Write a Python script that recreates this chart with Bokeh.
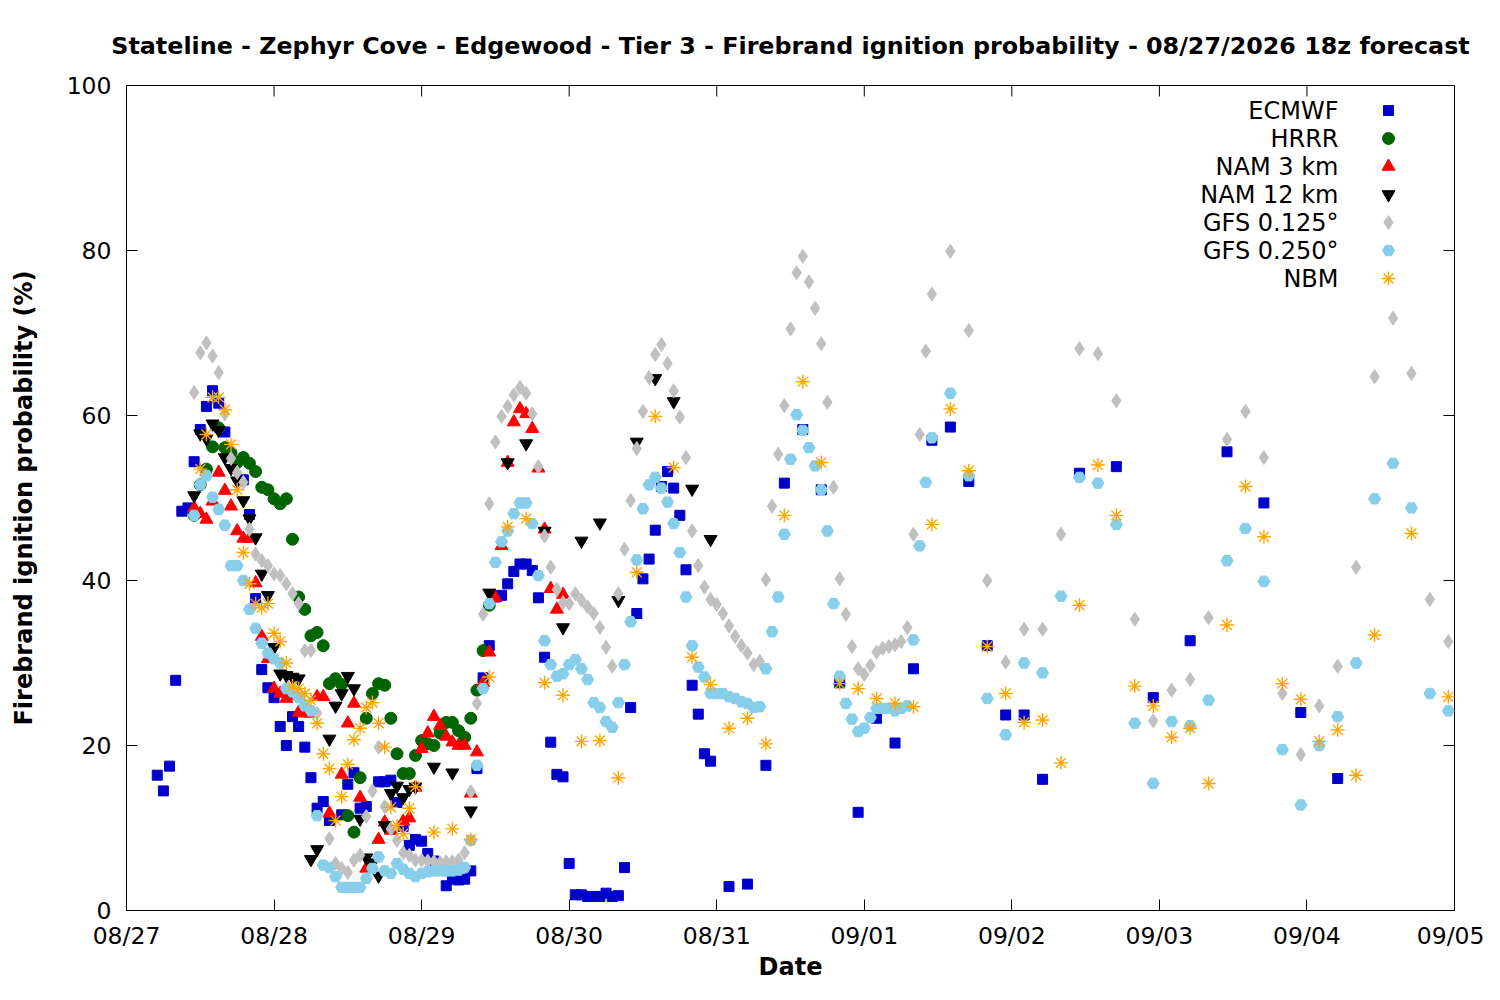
from bokeh.plotting import figure
from bokeh.models import FixedTicker, Range1d
from bokeh.core.properties import value
from bokeh.embed import file_html
from bokeh.resources import INLINE

# forecast hours counted from 08/27 00z
day_labels = ["08/27", "08/28", "08/29", "08/30", "08/31",
              "09/01", "09/02", "09/03", "09/04", "09/05"]

ecmwf_h = (list(range(5, 17)) + list(range(19, 34)) + list(range(35, 40))
           + list(range(41, 96)) + list(range(98, 150, 3)) + list(range(155, 198, 6)))
ecmwf_v = [16.4, 14.5, 17.5, 27.9, 48.4, 48.8, 54.4, 58.3, 61.1, 63.0, 61.5, 58.0,
           52.2, 48.0, 37.8, 29.2, 27.0, 25.8, 22.3, 20.0, 23.5, 22.3, 19.8, 16.1, 12.4, 13.2, 10.9,
           11.6, 15.3, 16.7, 12.4, 12.6,
           15.6, 15.6, 15.8, 13.1, 10.2, 7.9, 8.6, 8.4,
           6.9, 6.0, 5.0, 3.0, 3.8, 3.7, 3.8, 4.8,
           17.2, 28.2, 32.1, 38.0, 38.2, 39.6, 41.1, 42.0, 42.0, 41.2, 37.9, 30.7, 20.4, 16.5, 16.2,
           5.7, 1.9, 1.9, 1.7, 1.7, 1.7, 2.1, 1.7, 1.8, 5.2,
           24.6, 36.0, 40.2, 42.6, 46.1, 51.4, 53.2, 51.2, 47.9, 41.3, 27.3, 23.8, 19.0, 18.1,
           2.9, 3.2, 17.6, 51.8, 58.3, 51.0, 27.6, 11.9, 23.3, 20.3, 29.3, 57.0, 58.6, 52.0,
           32.1, 23.7, 23.7, 15.9,
           53.0, 53.8, 25.8, 32.7, 55.6, 49.4, 24.0, 16.0]

hrrr_h = list(range(11, 60))
hrrr_v = [47.9, 51.6, 53.5, 56.2, 58.5, 56.1, 55.5, 54.3, 54.9, 54.2,
          53.2, 51.3, 51.0, 49.9, 49.3, 49.9, 45.0, 38.0, 36.5, 33.3,
          33.7, 32.1, 27.5, 28.1, 27.4, 11.5, 9.5, 16.1, 23.3, 26.3,
          27.5, 27.3, 23.3, 19.0, 16.6, 16.6, 18.8, 20.6, 20.2, 20.0,
          21.5, 22.8, 22.8, 21.8, 21.0, 23.3, 26.7, 31.5, 37.0]

nam3_h = list(range(11, 34)) + list(range(35, 40)) + list(range(41, 44)) + list(range(45, 72))
nam3_v = [48.8, 48.1, 47.4, 49.6, 53.1, 50.9, 49.0, 46.0, 45.1, 45.1,
          39.7, 33.2, 30.5, 26.9, 26.3, 25.7, 26.0, 24.0, 23.9, 23.9,
          25.9, 25.9, 11.8,
          16.5, 22.7, 25.1, 13.7, 5.1,
          8.6, 10.7, 9.7,
          10.8, 11.2, 14.9, 19.6, 21.5, 23.5, 22.4, 21.1, 20.4, 20.0,
          20.0, 14.2, 19.2, 27.6, 31.3, 37.9, 44.2, 54.3, 59.2, 60.8,
          60.2, 58.4, 53.6, 46.2, 39.0, 36.5, 38.3]

nam12_h = list(range(11, 29)) + [30, 31] + list(range(33, 48)) + list(range(50, 96, 3))
nam12_v = [50.3, 57.8, 57.2, 59.0, 58.2, 54.9, 53.6, 52.1, 49.7, 47.5,
           45.2, 40.8, 38.2, 31.9, 28.7, 28.5, 28.3, 28.1,
           6.2, 7.4,
           20.8, 24.8, 26.3, 28.4, 26.9, 11.1, 6.4, 5.8, 4.2, 10.3, 14.2, 15.1, 13.7, 14.7, 15.0,
           17.4, 16.7, 12.1, 38.5, 54.3, 56.6, 46.0, 34.3, 44.8, 47.0, 37.6, 56.8, 64.5, 61.7,
           51.1, 45.0]

gfs125_h = list(range(11, 32)) + list(range(33, 132)) + list(range(134, 216, 3))
gfs125_v = [62.8, 67.6, 68.8, 67.2, 65.2, 60.2, 54.8, 53.1, 51.9, 46.2,
            43.2, 42.4, 41.8, 40.8, 40.6, 39.6, 38.4, 37.2, 31.5, 31.5,
            23.9,
            8.7, 5.7, 5.1, 4.6, 6.1, 6.7, 11.4, 14.5, 19.8, 12.6,
            9.9, 8.5, 7.0, 6.7, 6.1, 6.1, 6.0, 5.9, 5.8, 5.9,
            5.9, 6.1, 7.0, 14.4, 25.1, 35.9, 49.3, 56.8, 59.9, 61.1,
            62.5, 63.4, 62.7, 60.2, 53.8, 45.4, 41.6, 38.9, 37.3, 37.2,
            38.4, 37.6, 36.8, 36.0, 34.3, 31.9, 29.6, 38.4, 43.8, 49.7,
            56.0, 60.5, 64.6, 67.4, 68.6, 66.3, 63.0, 59.8, 54.9, 46.0,
            41.8, 39.2, 37.7, 37.1, 36.0, 34.5, 33.2, 32.1, 31.2, 29.8,
            30.2, 40.1, 49.0, 55.3, 61.2, 70.5, 77.3, 79.3, 76.2, 73.0,
            68.7, 61.6, 51.3, 40.2, 35.9, 32.0, 29.3, 28.6, 29.7, 31.3,
            31.8, 32.0, 32.2, 32.6, 34.3, 45.6, 57.7, 67.8, 74.7,
            79.9, 70.3, 40.0, 30.1, 34.1, 34.1, 45.6, 68.1, 67.5, 61.8,
            35.3, 23.0, 26.7, 28.0, 35.5, 57.1, 60.5, 54.9, 26.3, 18.9,
            24.8, 29.6, 41.6, 64.7, 71.8, 65.1, 37.7, 32.6]

gfs250_h = list(range(11, 132)) + list(range(134, 216, 3))
gfs250_v = [47.9, 51.6, 52.7, 50.1, 48.6, 46.7, 41.8, 41.8, 40.0, 36.5,
            34.2, 32.4, 31.2, 30.5, 30.0, 26.9, 26.5, 25.8, 24.8, 24.2,
            11.5, 5.5, 5.2, 4.1, 2.8, 2.8, 2.8, 2.8, 3.9, 5.1,
            6.5, 4.8, 4.5, 5.7, 5.0, 4.5, 4.1, 4.5, 4.7, 4.8,
            4.8, 4.8, 4.8, 4.9, 5.2, 8.5, 17.6, 26.9, 37.2, 42.2,
            44.7, 46.0, 48.1, 49.4, 49.4, 46.9, 40.6, 32.7, 29.8, 28.4,
            28.7, 29.8, 30.4, 29.3, 28.0, 25.2, 24.6, 22.9, 22.2, 25.2,
            29.8, 35.0, 42.5, 48.7, 51.6, 52.5, 51.2, 49.5, 46.9, 43.4,
            38.0, 32.1, 29.5, 28.3, 26.3, 26.3, 26.3, 25.9, 25.7, 25.3,
            25.1, 24.6, 24.7, 29.3, 33.8, 38.0, 45.6, 54.7, 60.1, 58.2,
            56.1, 53.9, 51.0, 46.0, 37.2, 28.4, 25.1, 23.2, 21.7, 22.1,
            23.4, 24.5, 24.5, 24.5, 24.2, 24.5, 24.8, 32.8, 44.2, 51.9, 57.3,
            62.7, 52.7, 25.7, 21.3, 30.0, 28.8, 38.1, 52.5, 51.8, 46.8,
            22.7, 15.4, 22.9, 22.4, 25.5, 42.4, 46.3, 39.9, 19.5, 12.8,
            20.0, 23.5, 30.0, 49.9, 54.2, 48.8, 26.3, 24.2]

nbm_h = list(range(12, 48)) + list(range(50, 204, 3)) + [209, 215]
nbm_v = [53.5, 57.7, 62.2, 62.2, 60.7, 56.5, 51.0, 43.4, 39.6, 37.2,
         36.7, 37.2, 33.6, 32.6, 30.0, 27.2, 26.9, 26.3, 25.5, 22.7,
         19.0, 17.2, 10.9, 13.8, 17.7, 20.7, 22.1, 24.6, 25.2, 22.7,
         19.8, 12.5, 10.3, 9.3, 12.4, 15.0,
         9.5, 9.9, 8.6, 28.3, 46.5, 47.5, 27.6, 26.1, 20.5, 20.6,
         16.1, 41.0, 59.9, 53.7, 30.7, 27.4, 22.1, 23.3, 20.2, 47.9,
         64.1, 54.3, 27.5, 26.9, 25.7, 25.1, 24.7, 46.8, 60.8, 53.3,
         32.0, 26.3, 22.8, 23.1, 17.9, 37.0, 54.0, 47.9, 27.2, 24.8,
         21.0, 22.1, 15.4, 34.6, 51.4, 45.3, 27.5, 25.6, 20.5, 21.9,
         16.4, 33.4,
         45.7, 25.9]

series = [
    ("ECMWF", ecmwf_h, ecmwf_v, "square", "#0000cd", 10),
    ("HRRR", hrrr_h, hrrr_v, "circle", "#006400", 12),
    ("NAM 3 km", nam3_h, nam3_v, "triangle", "#ff0000", 13),
    ("NAM 12 km", nam12_h, nam12_v, "inverted_triangle", "#000000", 13),
    ("GFS 0.125°", gfs125_h, gfs125_v, "diamond", "#c0c0c0", 14),
    ("GFS 0.250°", gfs250_h, gfs250_v, "hex", "#87ceeb", 12),
    ("NBM", nbm_h, nbm_v, "asterisk", "#ffa500", 14),
]

FONT = "DejaVu Sans"
X_END = 216
W, H = 1484, 984
frame_left, frame_right, frame_top, frame_bottom = 126, 1454, 85, 910

p = figure(width=W, height=H, x_range=Range1d(0, X_END), y_range=Range1d(0, 100),
           output_backend="svg", toolbar_location=None,
           title="Stateline - Zephyr Cove - Edgewood - Tier 3 - Firebrand ignition probability - 08/27/2026 18z forecast",
           min_border_left=frame_left, min_border_right=W - frame_right,
           min_border_top=frame_top, min_border_bottom=H - frame_bottom)

p.title.align = "center"
p.title.text_font = FONT
p.title.text_font_size = "23.8px"
p.title.text_font_style = "bold"
p.title.text_color = "black"
p.title.standoff = 51

p.grid.visible = False
p.outline_line_color = "black"
p.outline_line_width = 1
p.background_fill_color = "white"
p.border_fill_color = "white"

x_ticks = [24 * i for i in range(len(day_labels))]
y_ticks = [0, 20, 40, 60, 80, 100]

p.xaxis.ticker = FixedTicker(ticks=x_ticks)
p.xaxis.major_label_overrides = {t: lab for t, lab in zip(x_ticks, day_labels)}
p.yaxis.ticker = FixedTicker(ticks=y_ticks)

for ax in p.xaxis + p.yaxis:
    ax.axis_line_color = "black"
    ax.major_tick_line_color = "black"
    ax.major_tick_in = 11
    ax.major_tick_out = 0
    ax.minor_tick_line_color = None
    ax.major_label_text_font = FONT
    ax.major_label_text_font_size = "23.5px"
    ax.major_label_text_color = "black"
    ax.axis_label_text_font = FONT
    ax.axis_label_text_font_size = "24px"
    ax.axis_label_text_font_style = "bold"
    ax.axis_label_text_color = "black"

p.xaxis.axis_label = "Date"
p.xaxis.major_label_standoff = 11
p.xaxis.axis_label_standoff = 0
p.yaxis.axis_label = "Firebrand ignition probability (%)"
p.yaxis.major_label_standoff = 15
p.yaxis.axis_label_standoff = 26

# mirrored ticks on the top and right borders (11 px long, pointing inwards)
tick_dy = 11 * 100 / (frame_bottom - frame_top)
tick_dx = 11 * X_END / (frame_right - frame_left)
p.segment(x0=x_ticks, y0=[100] * len(x_ticks), x1=x_ticks, y1=[100 - tick_dy] * len(x_ticks),
          line_color="black", line_width=1)
p.segment(x0=[X_END] * len(y_ticks), y0=y_ticks, x1=[X_END - tick_dx] * len(y_ticks), y1=y_ticks,
          line_color="black", line_width=1)

for name, hrs, vals, marker, color, size in series:
    assert len(hrs) == len(vals), name
    if marker == "asterisk":
        p.scatter(hrs, vals, marker=marker, size=size, line_color=color, line_width=1.4)
    else:
        p.scatter(hrs, vals, marker=marker, size=size, fill_color=color, line_color=color)


# key in the top right corner, text then symbol, laid out in screen pixels
def to_hour(px):
    return (px - frame_left) * X_END / (frame_right - frame_left)


def to_val(py):
    return (frame_bottom - py) * 100 / (frame_bottom - frame_top)


row_y = [110 + 28 * i for i in range(len(series))]
p.text(x=[to_hour(1338)] * len(series), y=[to_val(y) for y in row_y],
       text=[s[0] for s in series], text_align="right", text_baseline="middle",
       text_font=value(FONT), text_font_size="24px", text_color="black")
for (name, hrs, vals, marker, color, size), y in zip(series, row_y):
    if marker == "asterisk":
        p.scatter([to_hour(1388)], [to_val(y)], marker=marker, size=size,
                  line_color=color, line_width=1.4)
    else:
        p.scatter([to_hour(1388)], [to_val(y)], marker=marker, size=size,
                  fill_color=color, line_color=color)

open("out.html", "w").write(file_html(p, INLINE))
